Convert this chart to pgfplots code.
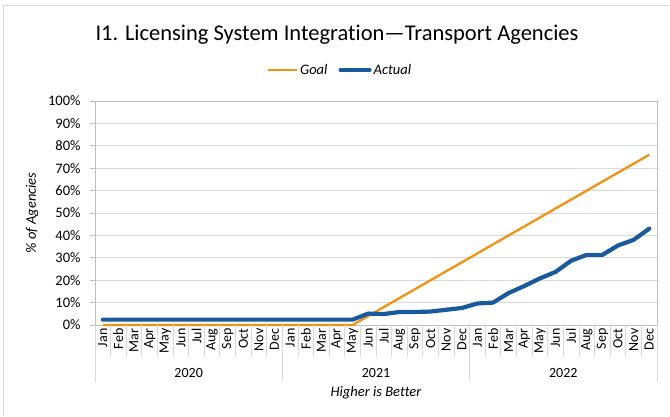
\documentclass[border=0pt]{standalone}
\usepackage{pgfplots}
\pgfplotsset{compat=1.18}
\usepackage{fontspec}
\setmainfont{Carlito}[Ligatures={TeX,NoCommon}]
\definecolor{goalc}{RGB}{242,146,18}
\definecolor{actc}{RGB}{26,89,155}
\definecolor{gridc}{RGB}{217,217,217}
\definecolor{axc}{RGB}{191,191,191}
\begin{document}
\begin{tikzpicture}[x=1pt,y=1pt]
\useasboundingbox (0pt,0pt) rectangle (670pt,416pt);
\draw[gridc, line width=0.9pt] (3.5pt,0pt) -- (3.5pt,411pt) -- (670pt,411pt);
\node[anchor=base, font=\fontsize{22.5}{26}\selectfont] at (337pt,375pt) {I1. Licensing System Integration—Transport Agencies};
\begin{axis}[
  at={(95pt,91pt)}, anchor=south west, scale only axis,
  width=562pt, height=224pt,
  xmin=0.5, xmax=36.5, ymin=0, ymax=100,
  clip=false,
  axis line style={axc, line width=0.8pt},
  ymajorgrids, grid style={gridc, line width=0.8pt},
  major tick length=0pt,
  ytick={0,10,20,30,40,50,60,70,80,90,100},
  yticklabels={0\%,10\%,20\%,30\%,40\%,50\%,60\%,70\%,80\%,90\%,100\%},
  yticklabel style={font=\fontsize{14.5}{16}\selectfont, xshift=-11pt},
  xtick={1,...,36},
  xticklabels={Jan,Feb,Mar,Apr,May,Jun,Jul,Aug,Sep,Oct,Nov,Dec,Jan,Feb,Mar,Apr,May,Jun,Jul,Aug,Sep,Oct,Nov,Dec,Jan,Feb,Mar,Apr,May,Jun,Jul,Aug,Sep,Oct,Nov,Dec},
  xticklabel style={rotate=90, anchor=east, font=\fontsize{14}{16}\selectfont},
  ylabel={\% of Agencies},
  ylabel style={at={(axis description cs:-0.112,0.5)}, anchor=center, font=\itshape\fontsize{14.5}{16}\selectfont},
  xlabel={Higher is Better},
  xlabel style={at={(axis description cs:0.5,-0.3036)}, anchor=center, font=\itshape\fontsize{14.5}{16}\selectfont},
  legend columns=2,
  legend style={at={(axis description cs:0.436,1.138)}, anchor=center, draw=none, fill=none,
    font=\itshape\fontsize{14.5}{16}\selectfont,
    /tikz/every even column/.append style={column sep=9pt}},
  legend image code/.code={\draw[#1] (0pt,0pt) -- (29pt,0pt);},
]
\addplot[goalc, line width=2.3pt, line join=round] coordinates {
(1,0)(2,0)(3,0)(4,0)(5,0)(6,0)(7,0)(8,0)(9,0)(10,0)(11,0)(12,0)
(13,0)(14,0)(15,0)(16,0)(17,0)(18,4)(19,8)(20,12)(21,16)(22,20)(23,24)(24,28)
(25,32)(26,36)(27,40)(28,44)(29,48)(30,52)(31,56)(32,60)(33,64)(34,68)(35,72)(36,76)};
\addlegendentry{Goal}
\addplot[actc, line width=4.2pt, line join=round, line cap=round] coordinates {
(1,2.4)(2,2.4)(3,2.4)(4,2.4)(5,2.4)(6,2.4)(7,2.4)(8,2.4)(9,2.4)(10,2.4)(11,2.4)(12,2.4)
(13,2.4)(14,2.4)(15,2.4)(16,2.4)(17,2.4)(18,5.1)(19,4.9)(20,5.8)(21,5.8)(22,6.0)(23,6.8)(24,7.6)
(25,9.6)(26,10.0)(27,14.3)(28,17.4)(29,20.8)(30,23.7)(31,28.7)(32,31.3)(33,31.3)(34,35.5)(35,38.0)(36,43.0)};
\addlegendentry{Actual}
\pgfplotsinvokeforeach{0,10,20,30,40,50,60,70,80,90,100}{
  \draw[axc, line width=0.8pt] (axis cs:0.5,#1) -- ++(-5pt,0pt);
}
\pgfplotsinvokeforeach{1,...,35}{
  \draw[gridc, line width=0.8pt] (axis cs:#1.5,0) -- ++(0pt,-32pt);
}
\pgfplotsinvokeforeach{0,12,24,36}{
  \draw[gridc, line width=0.8pt] (axis cs:#1.5,0) -- ++(0pt,-57pt);
}
\node[font=\fontsize{14}{16}\selectfont] at (axis cs:6.5,0) [yshift=-48pt] {2020};
\node[font=\fontsize{14}{16}\selectfont] at (axis cs:18.5,0) [yshift=-48pt] {2021};
\node[font=\fontsize{14}{16}\selectfont] at (axis cs:30.5,0) [yshift=-48pt] {2022};
\end{axis}
\end{tikzpicture}
\end{document}
